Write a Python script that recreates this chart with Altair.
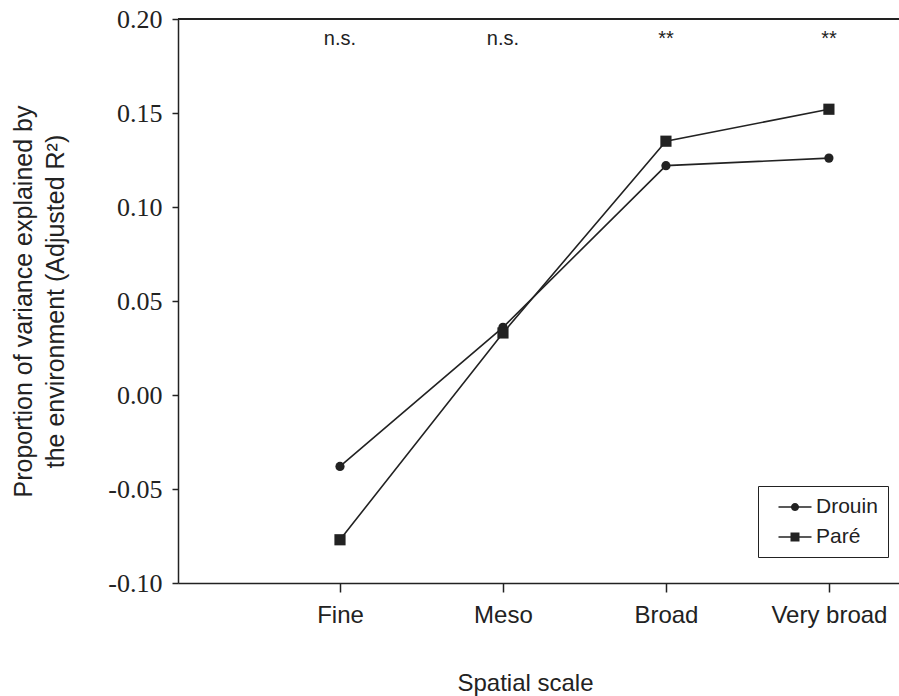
import altair as alt
import pandas as pd

# Spatial scales and adjusted R² for the two data sets
scales = ["Fine", "Meso", "Broad", "Very broad"]
drouin = [-0.038, 0.036, 0.122, 0.126]
pare = [-0.077, 0.033, 0.135, 0.152]
signif = ["n.s.", "n.s.", "**", "**"]
series_names = ["Drouin", "Paré"]

INK = "#222222"
SANS = "Liberation Sans"
SERIF = "Liberation Serif"

long_rows = []
for name, vals in zip(series_names, [drouin, pare]):
    for s, v in zip(scales, vals):
        long_rows.append({"scale": s, "r2": v, "series": name})
df = pd.DataFrame(long_rows)
sig_df = pd.DataFrame({"scale": scales, "label": signif})

x_enc = alt.X(
    "scale:N",
    sort=scales,
    scale=alt.Scale(type="point", padding=0.712, align=0.698),
    axis=alt.Axis(
        title="Spatial scale", grid=False,
        labelFont=SANS, labelFontSize=24, labelColor=INK, labelAngle=0,
        labelPadding=11, tickSize=9, tickColor=INK, tickWidth=1.5,
        domainColor=INK, domainWidth=1.5,
        titleFont=SANS, titleFontSize=24, titleFontWeight="normal",
        titleColor=INK, titlePadding=44, titleX=347, titleAlign="center",
    ),
)
y_enc = alt.Y(
    "r2:Q",
    scale=alt.Scale(domain=[-0.10, 0.20], nice=False, zero=False),
    axis=alt.Axis(
        values=[-0.10, -0.05, 0.0, 0.05, 0.10, 0.15, 0.20],
        labelExpr="replace(format(datum.value, '.2f'), '\u2212', '-')",
        title=["Proportion of variance explained by", "the environment (Adjusted R²)"],
        grid=False,
        labelFont=SERIF, labelFontSize=26, labelColor=INK, labelPadding=10,
        tickSize=6, tickColor=INK, tickWidth=1.5,
        domainColor=INK, domainWidth=1.5,
        titleFont=SANS, titleFontSize=25, titleFontWeight="normal",
        titleColor=INK, titlePadding=39, titleLineHeight=32,
    ),
)

lines = alt.Chart(df).mark_line(color=INK, strokeWidth=1.6).encode(
    x=x_enc, y=y_enc, detail="series:N"
)

points = alt.Chart(df).mark_point(filled=True, color=INK, opacity=1).encode(
    x=x_enc,
    y=y_enc,
    shape=alt.Shape("series:N", scale=alt.Scale(domain=series_names, range=["circle", "square"]), legend=None),
    size=alt.Size("series:N", scale=alt.Scale(domain=series_names, range=[85, 125]), legend=None),
)

# Legend: two overlaid keys share one layout -- a line segment key with the
# labels and box, and a filled marker key drawn on top of it.
legend_common = dict(
    title=None, orient="none", legendX=580, legendY=467, padding=10,
    symbolSize=400, symbolOpacity=1, symbolOffset=16,
    labelFont=SANS, labelFontSize=21, labelOffset=10, rowPadding=9,
)
segment_key = "M-1.65,0H1.65"
circle_key = "M0.4,0A0.4,0.4 0 1,1 -0.4,0A0.4,0.4 0 1,1 0.4,0Z"
square_key = "M-0.45,-0.45H0.45V0.45H-0.45Z"

legend_lines = alt.Chart(df).mark_point(
    filled=False, stroke=INK, strokeWidth=1.4, opacity=0
).encode(
    x=x_enc,
    y=y_enc,
    shape=alt.Shape(
        "series:N",
        scale=alt.Scale(domain=series_names, range=[segment_key, segment_key]),
        legend=alt.Legend(
            strokeColor=INK, symbolStrokeColor=INK, symbolStrokeWidth=1.4,
            labelColor=INK, **legend_common,
        ),
    ),
)

legend_marks = alt.Chart(df).mark_point(filled=True, color=INK, opacity=0).encode(
    x=x_enc,
    y=y_enc,
    shape=alt.Shape(
        "series:N",
        scale=alt.Scale(domain=series_names, range=[circle_key, square_key]),
        legend=alt.Legend(
            symbolFillColor=INK, labelColor="transparent", **legend_common,
        ),
    ),
)

sig_text = alt.Chart(sig_df).mark_text(
    font=SANS, fontSize=20, color=INK, baseline="alphabetic"
).encode(x=x_enc, y=alt.value(26), text="label:N")

top_rule = alt.Chart(sig_df).mark_rule(color=INK, strokeWidth=1.5).encode(
    x=alt.value(0), x2=alt.value(721), y=alt.value(0)
)

chart = (
    alt.layer(top_rule, lines, points, legend_lines, legend_marks, sig_text)
    .resolve_scale(shape="independent", size="independent")
    .properties(
        width=721, height=564,
        autosize=alt.AutoSizeParams(type="none"),
        padding={"left": 178, "top": 19, "right": 0, "bottom": 113},
    )
    .configure_view(stroke=None)
    .configure_axis(grid=False)
    .configure(background="white")
)

chart.save("out.html", embed_options={"renderer": "svg", "actions": False})
